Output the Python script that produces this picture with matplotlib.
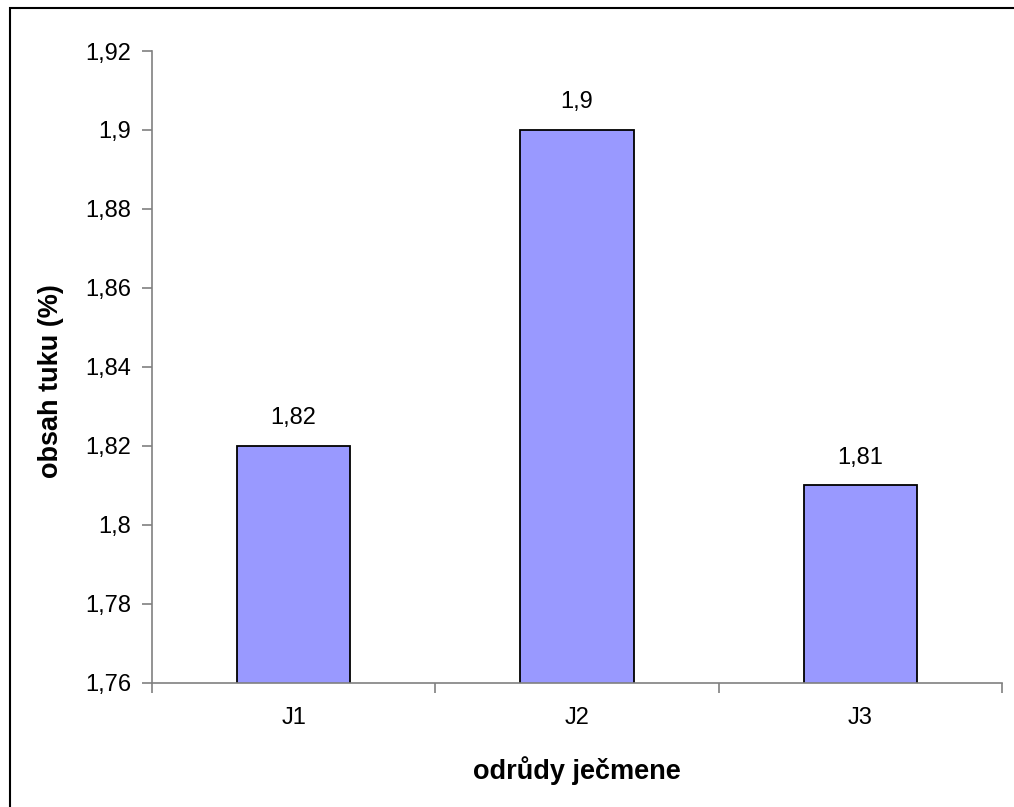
import matplotlib.pyplot as plt
from matplotlib.patches import Rectangle
from matplotlib.ticker import FixedLocator

plt.rcParams['font.family'] = ['Liberation Sans', 'DejaVu Sans']

categories = ['J1', 'J2', 'J3']
values = [1.82, 1.90, 1.81]
y_ticks = [1.76, 1.78, 1.80, 1.82, 1.84, 1.86, 1.88, 1.90, 1.92]


def fmt(v):
    s = ('%.2f' % v).rstrip('0').rstrip('.')
    return s.replace('.', ',')


fig = plt.figure(figsize=(10.14, 8.07), dpi=100)
ax = fig.add_axes([0.1499, 0.1537, 0.8383, 0.7831])

x = list(range(len(categories)))
ax.bar(x, values, width=0.4, color='#9999FF', edgecolor='black',
       linewidth=1.3)
ax.set_ylim(1.76, 1.92)
ax.set_xlim(-0.5, len(categories) - 0.5)

ax.set_yticks(y_ticks)
ax.set_yticklabels([fmt(v) for v in y_ticks])
ax.set_xticks(x)
ax.set_xticklabels(categories)
ax.xaxis.set_minor_locator(FixedLocator([i - 0.5 for i in range(len(categories) + 1)]))
ax.tick_params(axis='x', which='major', length=0, pad=17, labelsize=17)
ax.tick_params(axis='x', which='minor', length=7, color='#808080', width=1.2, direction='out')
ax.tick_params(axis='y', length=7, color='#808080', width=1.2, direction='out',
               pad=8, labelsize=17)

for side in ['top', 'right']:
    ax.spines[side].set_visible(False)
for side in ['left', 'bottom']:
    ax.spines[side].set_color('#808080')
    ax.spines[side].set_linewidth(1.2)

for xi, v in zip(x, values):
    ax.annotate(fmt(v), (xi, v), xytext=(0, 12), textcoords='offset points',
                ha='center', va='bottom', fontsize=17)

ax.set_ylabel('obsah tuku (%)', fontsize=19.5, fontweight='bold')
ax.yaxis.set_label_coords(-0.104, 0.478)
ax.set_xlabel('odrůdy ječmene', fontsize=19.5, fontweight='bold', labelpad=20)

# frame around the whole chart, right and bottom edges fall off the image
fig.patches.append(Rectangle((10 / 1014, -0.05), 1.1, 1.05 - 8 / 807,
                             transform=fig.transFigure, fill=False,
                             edgecolor='black', linewidth=1.5, clip_on=False))

fig.savefig('out.png', dpi=100)
